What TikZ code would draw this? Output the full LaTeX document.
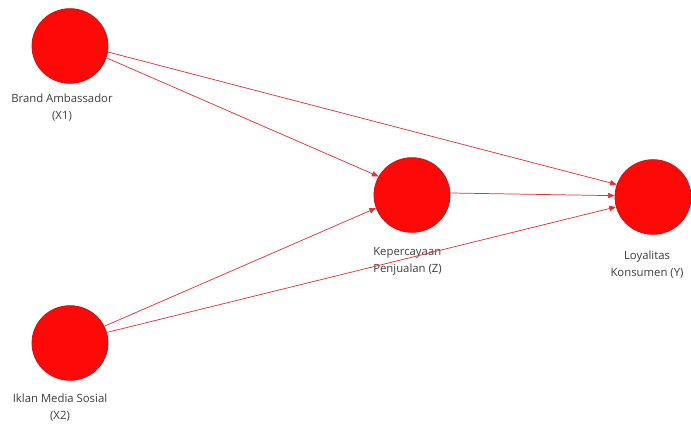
\documentclass[tikz,border=0pt]{standalone}
\usepackage{fontspec}
\setmainfont{Open Sans}
\usetikzlibrary{arrows.meta,positioning,shapes.geometric}
\definecolor{nodered}{RGB}{255,8,8}
\definecolor{rimred}{RGB}{190,25,25}
\definecolor{pathred}{RGB}{222,50,60}
\definecolor{labelgray}{RGB}{60,60,60}
\tikzset{
  latent/.style={ellipse, fill=nodered, draw=rimred, line width=0.6pt, minimum width=57pt, minimum height=56pt},
  varlabel/.style={font=\fontsize{8.5}{12.5}\selectfont, text=labelgray, inner sep=0pt},
  pathln/.style={-{Triangle[length=5pt,width=4pt]}, line width=0.55pt, pathred},
}

\begin{document}
\begin{tikzpicture}[x=0.75pt, y=-0.75pt]
      \useasboundingbox (0,0) rectangle (691,424);
      % latent variables
      \node[latent] (x1) at (70,46) {};
      \node[latent] (x2) at (70,343) {};
      \node[latent] (z) at (412,195) {};
      \node[latent] (y) at (653,197) {};
      % variable names
      \node[varlabel, align=center, anchor=north] (lx1) at (62,94) {Brand Ambassador\\(X1)};
      \node[varlabel, align=center, anchor=north] (lx2) at (60,394) {Iklan Media Sosial\\(X2)};
      \node[varlabel, align=left, anchor=north west] (lz) at (373,247) {Kepercayaan\\Penjualan (Z)};
      \node[varlabel, align=center, anchor=north] (ly) at (647,251) {Loyalitas\\Konsumen (Y)};
      % structural paths
      \draw[pathln] (x1.-9) -- (y.161);
      \draw[pathln] (x1.-18) -- (z.151);
      \draw[pathln] (x2.26) -- (z.200);
      \draw[pathln] (x2.16) -- (y.195);
      \draw[pathln] (z.3) -- (y.178);
    \end{tikzpicture}
\end{document}
